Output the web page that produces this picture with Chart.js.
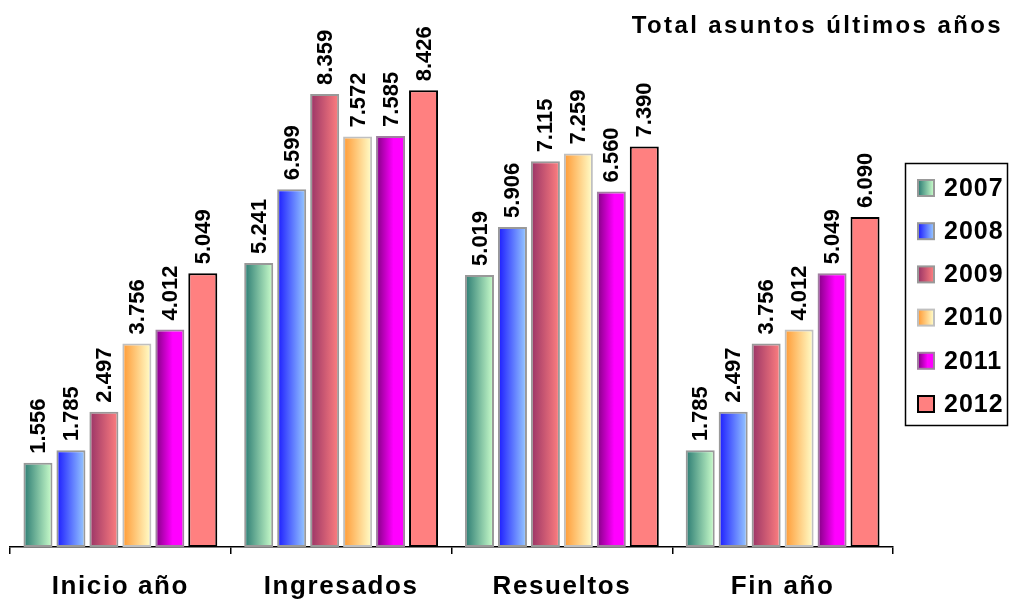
<!DOCTYPE html>
<html>
<head>
<meta charset="utf-8">
<title>Total asuntos últimos años</title>
<script src="https://cdn.jsdelivr.net/npm/chart.js@4"></script>
<style>
  body { margin: 0; background: #fff; }
  .wrap { width: 1011px; height: 599px; position: relative; }
</style>
</head>
<body>
<div class="wrap"><canvas id="myChart"></canvas></div>
<script>
const categories = ['Inicio año', 'Ingresados', 'Resueltos', 'Fin año'];
const years = ['2007', '2008', '2009', '2010', '2011', '2012'];

const values2007 = [1556, 5241, 5019, 1785];
const values2008 = [1785, 6599, 5906, 2497];
const values2009 = [2497, 8359, 7115, 3756];
const values2010 = [3756, 7572, 7259, 4012];
const values2011 = [4012, 7585, 6560, 5049];
const values2012 = [5049, 8426, 7390, 6090];

const seriesValues = [values2007, values2008, values2009, values2010, values2011, values2012];

// left / right colour of each bar's gradient
const colorsFrom = ['#2a7a72', '#1a1aff', '#993366', '#ff9933', '#800080', '#ff8080'];
const colorsTo = ['#ccffcc', '#99ccff', '#ff8080', '#ffffcc', '#ff00ff', '#ff8080'];
const borders = ['#999999', '#999999', '#999999', '#c0c0c0', '#a080a0', '#000000'];

const FONT = 'Liberation Sans, Arial, sans-serif';

function fmt(v) {
    return String(v).replace(/\B(?=(\d{3})+(?!\d))/g, '.');
}

function barGradient(ctx, x0, x1, i) {
    const g = ctx.createLinearGradient(x0, 0, x1, 0);
    g.addColorStop(0, colorsFrom[i]);
    g.addColorStop(i === 4 ? 0.6 : 1, colorsTo[i]);
    g.addColorStop(1, colorsTo[i]);
    return g;
}

const gradientBars = {
    id: 'gradientBars',
    beforeDraw(chart) {
        chart.ctx.letterSpacing = '1.6px';
    },
    beforeDatasetsDraw(chart) {
        const ctx = chart.ctx;
        chart.data.datasets.forEach((ds, i) => {
            chart.getDatasetMeta(i).data.forEach(el => {
                const g = barGradient(ctx, el.x - el.width / 2, el.x + el.width / 2, i);
                el.options = Object.assign({}, el.options, { backgroundColor: g });
            });
        });
    },
    afterDatasetsDraw(chart) {
        const ctx = chart.ctx;
        ctx.save();
        ctx.letterSpacing = '0px';
        ctx.font = 'bold 22px ' + FONT;
        ctx.fillStyle = '#000';
        ctx.textAlign = 'left';
        ctx.textBaseline = 'middle';
        chart.data.datasets.forEach((ds, i) => {
            chart.getDatasetMeta(i).data.forEach((el, j) => {
                ctx.save();
                ctx.translate(el.x, el.y - 9);
                ctx.rotate(-Math.PI / 2);
                ctx.fillText(fmt(ds.data[j]), 0, 1);
                ctx.restore();
            });
        });
        ctx.restore();
    },
    afterDraw(chart) {
        const ctx = chart.ctx;
        ctx.save();
        // title
        ctx.letterSpacing = '2.4px';
        ctx.font = 'bold 24px ' + FONT;
        ctx.fillStyle = '#000';
        ctx.textAlign = 'right';
        ctx.textBaseline = 'middle';
        ctx.fillText('Total asuntos últimos años', 1003, 26);

        // legend
        ctx.lineWidth = 1.5;
        ctx.strokeStyle = '#000';
        ctx.strokeRect(905.5, 163.5, 102, 262);
        ctx.letterSpacing = '1px';
        ctx.font = 'bold 25px ' + FONT;
        ctx.textAlign = 'left';
        chart.data.datasets.forEach((ds, i) => {
            const y = 188 + i * 43.2;
            ctx.fillStyle = barGradient(ctx, 918, 934, i);
            ctx.fillRect(918, y - 8, 16, 16);
            ctx.lineWidth = 2;
            ctx.strokeStyle = borders[i];
            ctx.strokeRect(918, y - 8, 16, 16);
            ctx.fillStyle = '#000';
            ctx.fillText(ds.label, 944, y + 1);
        });
        ctx.restore();
    }
};

const data = {
    labels: categories,
    datasets: years.map((y, i) => ({
        label: y,
        data: seriesValues[i],
        backgroundColor: colorsTo[i],
        borderColor: borders[i],
        borderWidth: 2,
        borderSkipped: false,
        categoryPercentage: 0.896,
        barPercentage: 0.88
    }))
};

const config = {
    type: 'bar',
    data: data,
    options: {
        responsive: true,
        maintainAspectRatio: false,
        animation: false,
        layout: { padding: { left: 10, right: 118, top: 5, bottom: 0 } },
        plugins: {
            legend: { display: false },
            tooltip: { enabled: false }
        },
        scales: {
            x: {
                afterFit(scale) { scale.height = 52; },
                grid: {
                    offset: true,
                    drawOnChartArea: false,
                    drawTicks: true,
                    tickLength: 7,
                    color: '#000',
                    lineWidth: 1.5
                },
                border: { display: true, color: '#000', width: 1.5 },
                ticks: {
                    color: '#000',
                    font: { family: FONT, size: 26, weight: 'bold' },
                    padding: 17,
                    maxRotation: 0
                }
            },
            y: {
                display: false,
                min: 0,
                max: 10000
            }
        }
    },
    plugins: [gradientBars]
};

const myChart = new Chart(document.getElementById('myChart'), config);
</script>
</body>
</html>
